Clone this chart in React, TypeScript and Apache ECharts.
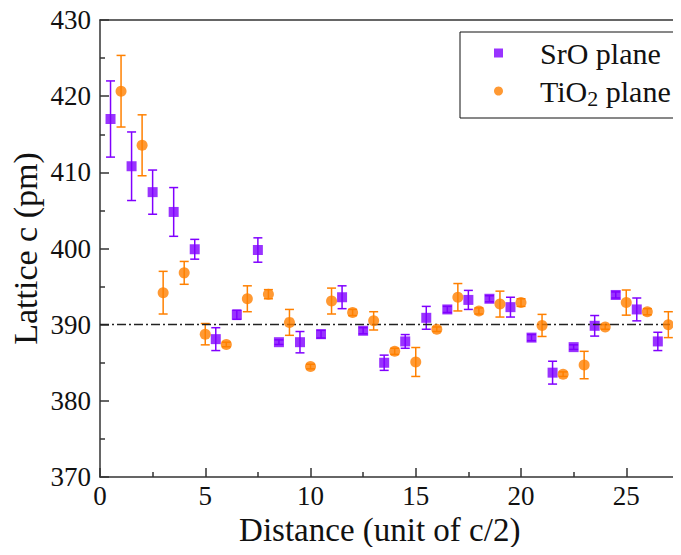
import React, { useEffect, useRef } from "react";
import * as echarts from "echarts";

const srX = [0.5, 1.5, 2.5, 3.5, 4.5, 5.5, 6.5, 7.5, 8.5, 9.5, 10.5, 11.5, 12.5, 13.5, 14.5, 15.5, 16.5, 17.5, 18.5, 19.5, 20.5, 21.5, 22.5, 23.5, 24.5, 25.5, 26.5];
const srY = [417.0, 410.8, 407.4, 404.8, 399.9, 388.1, 391.3, 399.8, 387.7, 387.7, 388.75, 393.6, 389.2, 385.0, 387.8, 390.9, 392.0, 393.25, 393.4, 392.3, 388.3, 383.7, 387.05, 389.85, 393.9, 392.0, 387.8];
const srErr = [5.0, 4.5, 2.9, 3.2, 1.3, 1.5, 0.6, 1.6, 0.3, 1.4, 0.5, 1.5, 0.4, 1.0, 0.9, 1.5, 0.4, 1.25, 0.4, 1.3, 0.4, 1.5, 0.3, 1.35, 0.4, 1.5, 1.2];

const tiX = [1, 2, 3, 4, 5, 6, 7, 8, 9, 10, 11, 12, 13, 14, 15, 16, 17, 18, 19, 20, 21, 22, 23, 24, 25, 26, 27];
const tiY = [420.65, 413.55, 394.2, 396.8, 388.75, 387.4, 393.4, 394.0, 390.3, 384.5, 393.1, 391.6, 390.5, 386.5, 385.1, 389.4, 393.6, 391.8, 392.7, 392.9, 389.9, 383.5, 384.7, 389.7, 392.9, 391.7, 390.0];
const tiErr = [4.7, 4.0, 2.8, 1.5, 1.4, 0.3, 1.7, 0.6, 1.7, 0.3, 1.7, 0.4, 1.2, 0.4, 1.9, 0.3, 1.8, 0.4, 1.7, 0.5, 1.45, 0.3, 1.8, 0.3, 1.65, 0.4, 1.7];

const xTickLabels = [0, 5, 10, 15, 20, 25];
const refLine = 390;

const PURPLE = "#8000ff";
const ORANGE = "#ff8000";
const FONT = "Liberation Serif";

function errorBar(color: string) {
  return (params: any, api: any) => {
    const x = api.value(0);
    const lo = api.coord([x, api.value(1)]);
    const hi = api.coord([x, api.value(2)]);
    const hw = 4.5;
    const style = { stroke: color, lineWidth: 1.5 };
    return {
      type: "group",
      children: [
        { type: "line", shape: { x1: lo[0], y1: lo[1], x2: hi[0], y2: hi[1] }, style },
        { type: "line", shape: { x1: lo[0] - hw, y1: lo[1], x2: lo[0] + hw, y2: lo[1] }, style },
        { type: "line", shape: { x1: hi[0] - hw, y1: hi[1], x2: hi[0] + hw, y2: hi[1] }, style },
      ],
    };
  };
}

export default function App() {
  const ref = useRef<HTMLDivElement>(null);
  useEffect(() => {
    if (!ref.current) return;
    const chart = echarts.init(ref.current, undefined, { renderer: "svg" });
    const axisLineStyle = { color: "#333", width: 1.5 };
    chart.setOption({
      animation: false,
      backgroundColor: "#fff",
      textStyle: { fontFamily: FONT },
      grid: { left: 100, top: 20, width: 631.5, height: 457, containLabel: false, outerBoundsMode: "none" },
      legend: {
        left: 460,
        top: 32,
        orient: "vertical",
        borderColor: "#111",
        borderWidth: 1,
        padding: [4, 4, 9, 34],
        itemGap: 3,
        itemWidth: 9,
        itemHeight: 9,
        data: [
          { name: "SrO plane", icon: "rect" },
          { name: "TiO2 plane", icon: "circle" },
        ],
        formatter: (name: string) => (name === "TiO2 plane" ? "TiO{sub|2} plane" : name),
        textStyle: {
          fontFamily: FONT,
          fontSize: 30,
          lineHeight: 34,
          color: "#111",
          padding: [0, 0, 0, 32],
          rich: {
            sub: { fontFamily: FONT, fontSize: 22, lineHeight: 20, padding: [14, 0, 0, 0], color: "#111" },
          },
        },
      },
      xAxis: [
        {
          type: "value",
          min: 0,
          max: 30,
          interval: 5,
          position: "bottom",
          name: "Distance (unit of c/2)",
          nameLocation: "middle",
          nameGap: 40,
          nameMoveOverlap: false,
          nameTextStyle: { fontFamily: FONT, fontSize: 33, lineHeight: 26, color: "#111", padding: [0, 72, 0, 0] },
          axisLine: { show: true, onZero: false, lineStyle: axisLineStyle },
          axisTick: { show: true, inside: true, length: 9, lineStyle: axisLineStyle },
          minorTick: { show: true, splitNumber: 2, length: 5, lineStyle: { color: "#333", width: 1.5 } },
          axisLabel: {
            fontFamily: FONT,
            fontSize: 27,
            lineHeight: 20,
            color: "#111",
            margin: 9,
            customValues: xTickLabels,
          },
          splitLine: { show: false },
        },
        {
          type: "value",
          min: 0,
          max: 30,
          position: "top",
          axisLine: { show: true, onZero: false, lineStyle: axisLineStyle },
          axisTick: { show: false },
          axisLabel: { show: false },
          splitLine: { show: false },
        },
      ],
      yAxis: {
        type: "value",
        min: 370,
        max: 430,
        interval: 10,
        name: "Lattice c (pm)",
        nameLocation: "middle",
        nameGap: 58,
        nameMoveOverlap: false,
        nameTextStyle: { fontFamily: FONT, fontSize: 34, color: "#111" },
        axisLine: { show: true, onZero: false, lineStyle: axisLineStyle },
        axisTick: { show: true, inside: true, length: 9, lineStyle: axisLineStyle },
        minorTick: { show: true, splitNumber: 2, length: 5, lineStyle: { color: "#333", width: 1.5 } },
        axisLabel: { fontFamily: FONT, fontSize: 27, color: "#111", margin: 9 },
        splitLine: { show: false },
      },
      series: [
        {
          type: "custom",
          name: "SrO err",
          renderItem: errorBar(PURPLE),
          data: srX.map((x, i) => [x, srY[i] - srErr[i], srY[i] + srErr[i]]),
          encode: { x: 0, y: [1, 2] },
          z: 2,
          silent: true,
        },
        {
          type: "scatter",
          name: "SrO plane",
          symbol: "rect",
          symbolSize: 10,
          itemStyle: { color: PURPLE },
          data: srX.map((x, i) => [x, srY[i]]),
          z: 3,
          markLine: {
            silent: true,
            symbol: "none",
            label: { show: false },
            lineStyle: { color: "#222", width: 1.3, type: [9, 3, 2, 3] },
            data: [{ yAxis: refLine }],
          },
        },
        {
          type: "custom",
          name: "TiO2 err",
          renderItem: errorBar(ORANGE),
          data: tiX.map((x, i) => [x, tiY[i] - tiErr[i], tiY[i] + tiErr[i]]),
          encode: { x: 0, y: [1, 2] },
          z: 4,
          silent: true,
        },
        {
          type: "scatter",
          name: "TiO2 plane",
          symbol: "circle",
          symbolSize: 11,
          itemStyle: { color: ORANGE },
          data: tiX.map((x, i) => [x, tiY[i]]),
          z: 5,
        },
      ],
    });
    return () => chart.dispose();
  }, []);
  return <div ref={ref} style={{ width: 681, height: 555, margin: -8 }} />;
}
